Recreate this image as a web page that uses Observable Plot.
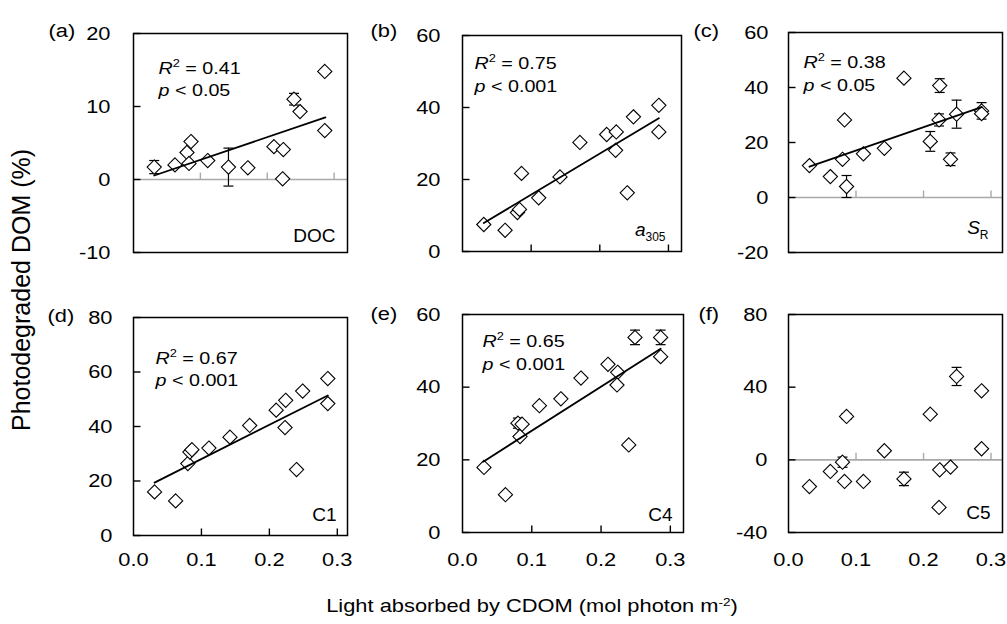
<!DOCTYPE html>
<html>
<head>
<meta charset="utf-8">
<script src="https://cdn.jsdelivr.net/npm/d3@7"></script>
<script src="https://cdn.jsdelivr.net/npm/@observablehq/plot@0.6"></script>
<style>
  body { margin: 0; background: #fff; }
  #chart { position: relative; width: 1007px; height: 624px; font-family: "Liberation Sans", Arial, sans-serif; color: #000; }
  #chart svg { position: absolute; overflow: visible; }
  .xtitle { position: absolute; left: 532px; top: 594px; font-size: 19px; white-space: nowrap; line-height: 24px;
            transform: translateX(-50%) scaleX(1.15); transform-origin: center; }
  .xtitle sup { font-size: 62%; vertical-align: 0; position: relative; top: -0.5em; }
  .ytitle { position: absolute; left: 21px; top: 290px; font-size: 25px; white-space: nowrap; line-height: 28px;
            transform: translate(-50%, -50%) rotate(-90deg); transform-origin: center; }
</style>
</head>
<body>
<div id="chart"></div>
<script>
// ---------- data ----------
const lightAbs = [0.031, 0.062, 0.080, 0.083, 0.086, 0.111, 0.142, 0.171, 0.210, 0.224, 0.223, 0.240, 0.249, 0.286, 0.286];

const docY   = [1.7, 2.0, 3.7, 2.2, 5.2, 2.6, 1.7, 1.6, 4.5, 4.1, 0.1, 11.0, 9.3, 14.8, 6.7];
const docErr = [0.9, 0, 0, 0, 0, 0, 2.6, 0, 0, 0, 0, 0.8, 0, 0, 0];

const a305Y   = [7.5, 5.9, 10.8, 11.7, 21.7, 14.9, 20.7, 30.3, 32.5, 33.2, 28.1, 16.3, 37.4, 40.6, 33.2];
const a305Err = [0, 0, 0, 0, 0, 0, 0, 0, 0, 0, 0, 0, 0, 0, 0];

const srY   = [11.6, 7.6, 13.9, 28.2, 4.0, 15.9, 17.9, 43.4, 20.4, 40.7, 28.2, 13.9, 30.3, 31.5, 30.5];
const srErr = [0, 0, 0, 0, 4.0, 0, 0, 0, 3.6, 2.5, 2.2, 2.3, 5.1, 3.0, 0];

const c1Y   = [16.0, 12.7, 26.4, 30.6, 31.5, 32.1, 36.1, 40.4, 46.0, 49.6, 39.6, 24.2, 53.0, 57.6, 48.4];
const c1Err = [0, 0, 0, 0, 0, 0, 0, 0, 0, 0, 0, 0, 0, 0, 0];

const c4Y   = [17.9, 10.4, 30.1, 26.4, 29.8, 34.9, 36.8, 42.5, 46.3, 44.1, 40.6, 24.1, 53.7, 53.7, 48.4];
const c4Err = [0, 0, 1.4, 0, 0, 0, 0, 0, 0, 0, 0, 0, 2.0, 2.0, 0];

const c5Y   = [-14.7, -6.4, -1.3, -11.9, 23.9, -11.9, 5.0, -10.5, 25.1, -5.5, -26.2, -4.0, 45.9, 38.0, 6.1];
const c5Err = [0, 0, 2.8, 0, 1.5, 0, 0, 3.7, 0, 0, 0, 0, 5.0, 0, 0];

// regression line end points [x, y]
const docFit  = [[0.031, 0.55], [0.287, 8.5]];
const a305Fit = [[0.031, 7.9], [0.286, 37.0]];
const srFit   = [[0.031, 11.2], [0.286, 32.9]];
const c1Fit   = [[0.031, 19.4], [0.286, 51.4]];
const c4Fit   = [[0.030, 19.5], [0.286, 50.6]];

const yDomains = [[-10, 20], [0, 60], [-20, 60], [0, 80], [0, 60], [-40, 80]];
const yTicksA = [-10, 0, 10, 20];
const yTicksB = [0, 20, 40, 60];
const yTicksC = [-20, 0, 20, 40, 60];
const yTicksD = [0, 20, 40, 60, 80];
const yTicksE = [0, 20, 40, 60];
const yTicksF = [-40, 0, 40, 80];
const xTicks = [0, 0.1, 0.2, 0.3];

const panelLetters = ["(a)", "(b)", "(c)", "(d)", "(e)", "(f)"];
const cornerLabels = ["DOC", "a305", "SR", "C1", "C4", "C5"];
const r2Values = ["0.41", "0.75", "0.38", "0.67", "0.65", null];
const pValues  = ["< 0.05", "< 0.001", "< 0.05", "< 0.001", "< 0.001", null];

const xTitle = "Light absorbed by CDOM (mol photon m";
const xTitleSup = "-2";
const yTitle = "Photodegraded DOM (%)";

// ---------- layout ----------
const layout = [
  {left: 0,   top: 0,   w: 350, h: 290, ml: 133, mr: 3, mt: 33, mb: 38, xmax: 0.320, pad: 23, letter: [-85, 3], stat: [25, 40, 62.5], corner: [-12, -10.7], xpad: null},
  {left: 350, top: 0,   w: 335, h: 290, ml: 112, mr: 4, mt: 35, mb: 39, xmax: 0.319, pad: 22, letter: [-92, 1], stat: [12, 33, 56],   corner: [-16, -16],   xpad: null},
  {left: 685, top: 0,   w: 322, h: 290, ml: 103, mr: 5, mt: 32, mb: 38, xmax: 0.317, pad: 20, letter: [-95, 4], stat: [15, 35, 58.7], corner: [-14, -19],   xpad: null},
  {left: 0,   top: 290, w: 350, h: 290, ml: 133, mr: 3, mt: 27, mb: 45, xmax: 0.315, pad: 21, letter: [-86, 4], stat: [22, 46, 68],   corner: [-11, -15],   xpad: 17},
  {left: 350, top: 290, w: 335, h: 290, ml: 112, mr: 2, mt: 24, mb: 48, xmax: 0.319, pad: 22, letter: [-92, 5], stat: [20, 32, 55.7], corner: [-11, -12],   xpad: 20},
  {left: 685, top: 290, w: 322, h: 290, ml: 103, mr: 5, mt: 24, mb: 48, xmax: 0.317, pad: 21, letter: [-90, 5], stat: null,           corner: [-12, -14],   xpad: 20}
];

const series = [
  {y: docY,  err: docErr,  fit: docFit,  yTicks: yTicksA},
  {y: a305Y, err: a305Err, fit: a305Fit, yTicks: yTicksB},
  {y: srY,   err: srErr,   fit: srFit,   yTicks: yTicksC},
  {y: c1Y,   err: c1Err,   fit: c1Fit,   yTicks: yTicksD},
  {y: c4Y,   err: c4Err,   fit: c4Fit,   yTicks: yTicksE},
  {y: c5Y,   err: c5Err,   fit: null,    yTicks: yTicksF}
];

// custom symbols
const tickRight = {draw(c) { c.moveTo(0, 0); c.lineTo(7, 0); }};
const tickUp    = {draw(c) { c.moveTo(0, 0); c.lineTo(0, -7); }};
const capSym    = {draw(c) { c.moveTo(-5, 0); c.lineTo(5, 0); }};

const NS = "http://www.w3.org/2000/svg";
function setRich(t, parts) {
  t.textContent = "";
  let cur = 0;
  for (const p of parts) {
    const ts = document.createElementNS(NS, "tspan");
    ts.textContent = p.text;
    if (p.italic) ts.setAttribute("font-style", "italic");
    if (p.size) ts.setAttribute("font-size", p.size);
    const shift = p.shift || 0;
    if (shift !== cur) { ts.setAttribute("dy", shift - cur); cur = shift; }
    t.appendChild(ts);
  }
}
function stretchText(t, s) {
  t.setAttribute("transform", (t.getAttribute("transform") || "") + ` scale(${s},1)`);
}

const chart = document.getElementById("chart");
const FONT = "'Liberation Sans', Arial, sans-serif";

series.forEach((s, k) => {
  const L = layout[k];
  const yDom = yDomains[k];
  const rows = lightAbs.map((x, i) => ({x, y: s.y[i], e: s.err[i]}));
  const errRows = rows.filter(d => d.e > 0);
  const hasZero = yDom[0] < 0;
  const base = hasZero ? 0 : yDom[0];
  const bottomRow = L.xpad != null;

  const marks = [
    hasZero ? Plot.ruleY([0], {stroke: "#a9a9a9", strokeWidth: 1.6}) : null,
    Plot.dot(s.yTicks, {x: 0, y: d => d, symbol: tickRight, r: 4, fill: "none", stroke: "black", strokeWidth: 1.4}),
    Plot.dot(xTicks.slice(1), {x: d => d, y: base, symbol: tickUp, r: 4, fill: "none", stroke: hasZero ? "#a9a9a9" : "black", strokeWidth: 1.4}),
    Plot.frame({stroke: "black", strokeWidth: 1.5}),
    Plot.axisY({ticks: s.yTicks, tickSize: 0, tickPadding: L.pad, tickFormat: d => String(d), fontSize: 19, label: null}),
    bottomRow ? Plot.axisX({ticks: xTicks, tickSize: 0, tickPadding: L.xpad, tickFormat: d3.format(".1f"), fontSize: 19, label: null}) : null,
    Plot.ruleX(errRows, {x: "x", y1: d => d.y - d.e, y2: d => d.y + d.e, stroke: "black", strokeWidth: 1.2}),
    Plot.dot(errRows, {x: "x", y: d => d.y + d.e, symbol: capSym, r: 4, fill: "none", stroke: "black", strokeWidth: 1.2}),
    Plot.dot(errRows, {x: "x", y: d => d.y - d.e, symbol: capSym, r: 4, fill: "none", stroke: "black", strokeWidth: 1.2}),
    Plot.dot(rows, {x: "x", y: "y", symbol: "diamond2", r: 6.4, fill: "white", stroke: "black", strokeWidth: 1.1}),
    s.fit ? Plot.line(s.fit, {x: d => d[0], y: d => d[1], stroke: "black", strokeWidth: 1.8}) : null,
    Plot.text([panelLetters[k]], {text: d => d, frameAnchor: "top-left", dx: L.letter[0], dy: L.letter[1], textAnchor: "start", lineAnchor: "bottom", fontSize: 19}),
    Plot.text([cornerLabels[k]], {text: d => d, frameAnchor: "bottom-right", dx: L.corner[0], dy: L.corner[1], textAnchor: "end", lineAnchor: "bottom", fontSize: 19}),
    r2Values[k] ? Plot.text([r2Values[k]], {text: d => "R2 = " + d, frameAnchor: "top-left", dx: L.stat[0], dy: L.stat[1], textAnchor: "start", lineAnchor: "bottom", fontSize: 17}) : null,
    pValues[k] ? Plot.text([pValues[k]], {text: d => "p " + d, frameAnchor: "top-left", dx: L.stat[0], dy: L.stat[2], textAnchor: "start", lineAnchor: "bottom", fontSize: 17}) : null
  ].filter(Boolean);

  const svg = Plot.plot({
    width: L.w, height: L.h,
    marginLeft: L.ml, marginRight: L.mr, marginTop: L.mt, marginBottom: L.mb,
    x: {domain: [0, L.xmax], axis: null},
    y: {domain: yDom, axis: null},
    style: {fontFamily: FONT, fontSize: "19px", background: "transparent", overflow: "visible", color: "black"},
    marks
  });
  svg.style.left = L.left + "px";
  svg.style.top = L.top + "px";

  // rich text (italic / super- and subscripts) and the slightly wide lettering of the reference
  svg.querySelectorAll("text").forEach(t => {
    const c = t.textContent;
    if (c.startsWith("R2 = ")) {
      setRich(t, [{text: "R", italic: true}, {text: "2", size: 11, shift: -6.5}, {text: " = " + r2Values[k]}]);
      stretchText(t, 1.16);
    } else if (c.startsWith("p <")) {
      setRich(t, [{text: "p", italic: true}, {text: " " + pValues[k]}]);
      stretchText(t, 1.16);
    } else if (c === "a305") {
      setRich(t, [{text: "a", italic: true}, {text: "305", size: 12, shift: 5}]);
    } else if (c === "SR") {
      setRich(t, [{text: "S", italic: true}, {text: "R", size: 12, shift: 5}]);
    } else if (panelLetters.includes(c)) {
      stretchText(t, 1.15);
    } else if (/^-?[0-9.]+$/.test(c)) {
      stretchText(t, 1.15);
    }
  });

  chart.appendChild(svg);
});

const xt = document.createElement("div");
xt.className = "xtitle";
xt.appendChild(document.createTextNode(xTitle));
const sup = document.createElement("sup");
sup.textContent = xTitleSup;
xt.appendChild(sup);
xt.appendChild(document.createTextNode(")"));
chart.appendChild(xt);

const yt = document.createElement("div");
yt.className = "ytitle";
yt.textContent = yTitle;
chart.appendChild(yt);
</script>
</body>
</html>
